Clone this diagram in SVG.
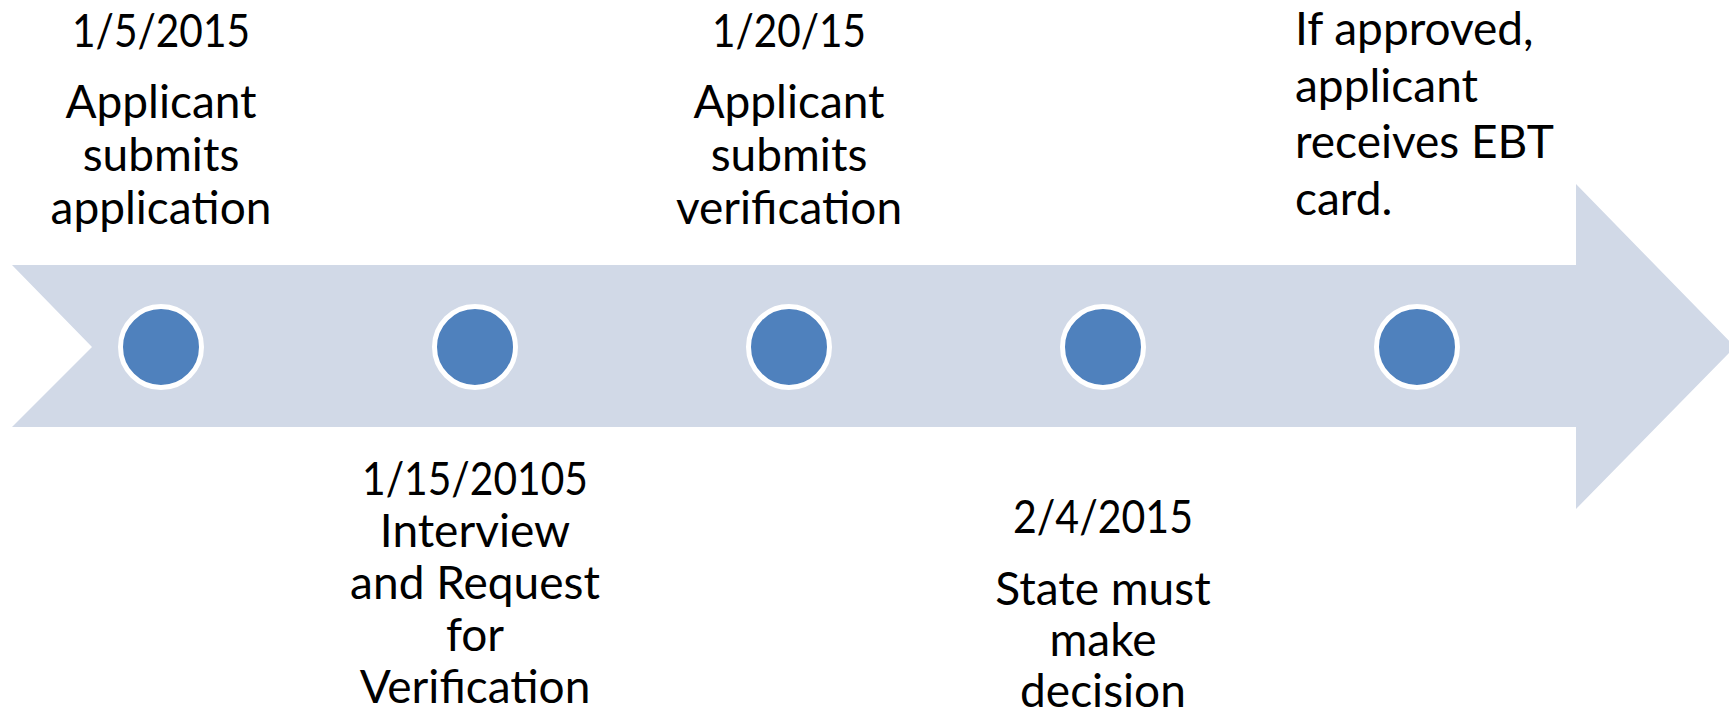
<svg xmlns="http://www.w3.org/2000/svg" width="1729" height="717" viewBox="0 0 1729 717">
  <style>
    .lbl { font-family: Lato, "Liberation Sans", sans-serif; font-size: 46px; fill: #000000; }
    .mid { text-anchor: middle; }
    .dot { fill: #4F81BD; stroke: #FFFFFF; stroke-width: 5; }
  </style>
  <rect width="1729" height="717" fill="#FFFFFF"/>

  <!-- timeline arrow -->
  <g id="timeline">
    <polygon points="12,265 1576,265 1576,184 1735,347 1576,509 1576,427 12,427 92,347" fill="#D1D9E7"/>
  </g>

  <!-- milestone 1 -->
  <g id="step1">
    <circle class="dot" cx="161" cy="347" r="40.5"/>
    <text class="lbl mid" x="161" y="47" textLength="178" lengthAdjust="spacingAndGlyphs">1/5/2015</text>
    <text class="lbl mid" x="161" y="118">Applicant</text>
    <text class="lbl mid" x="161" y="171">submits</text>
    <text class="lbl mid" x="161" y="224">application</text>
  </g>

  <!-- milestone 2 -->
  <g id="step2">
    <circle class="dot" cx="475" cy="347" r="40.5"/>
    <text class="lbl mid" x="475" y="495" textLength="226" lengthAdjust="spacingAndGlyphs">1/15/20105</text>
    <text class="lbl mid" x="475" y="547">Interview</text>
    <text class="lbl mid" x="475" y="599">and Request</text>
    <text class="lbl mid" x="475" y="651">for</text>
    <text class="lbl mid" x="475" y="703">Verification</text>
  </g>

  <!-- milestone 3 -->
  <g id="step3">
    <circle class="dot" cx="789" cy="347" r="40.5"/>
    <text class="lbl mid" x="789" y="47" textLength="154" lengthAdjust="spacingAndGlyphs">1/20/15</text>
    <text class="lbl mid" x="789" y="118">Applicant</text>
    <text class="lbl mid" x="789" y="171">submits</text>
    <text class="lbl mid" x="789" y="224">verification</text>
  </g>

  <!-- milestone 4 -->
  <g id="step4">
    <circle class="dot" cx="1103" cy="347" r="40.5"/>
    <text class="lbl mid" x="1103" y="533" textLength="180" lengthAdjust="spacingAndGlyphs">2/4/2015</text>
    <text class="lbl mid" x="1103" y="605">State must</text>
    <text class="lbl mid" x="1103" y="656">make</text>
    <text class="lbl mid" x="1103" y="707">decision</text>
  </g>

  <!-- milestone 5 -->
  <g id="step5">
    <circle class="dot" cx="1417" cy="347" r="40.5"/>
    <text class="lbl" x="1295" y="45">If approved,</text>
    <text class="lbl" x="1295" y="102">applicant</text>
    <text class="lbl" x="1295" y="158">receives EBT</text>
    <text class="lbl" x="1295" y="215">card.</text>
  </g>

  <!-- no separate connectors: the milestones sit on the arrow -->
  <g id="connectors"/>
</svg>
